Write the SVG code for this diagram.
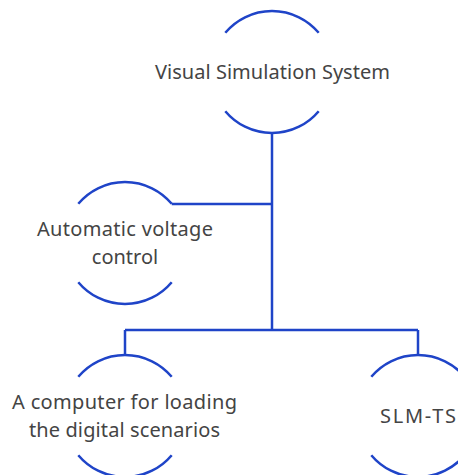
<svg xmlns="http://www.w3.org/2000/svg" width="458" height="475" viewBox="0 0 458 475">
<style>
.arc{fill:none;stroke:#1f44c8;stroke-width:2.5}
.con{fill:none;stroke:#1f44c8;stroke-width:2.5}
text{font-family:"Noto Sans","Liberation Sans",sans-serif;font-size:20px;fill:#444444;text-anchor:middle}
</style>
<rect width="458" height="475" fill="#ffffff"/>
<g id="connectors">
<path class="con" d="M272,132 V330"/>
<path class="con" d="M272,204 H171.7"/>
<path class="con" d="M125,330 H418"/>
<path class="con" d="M125,330 V355"/>
<path class="con" d="M418,330 V355"/>
</g>
<g id="node-visual-simulation-system">
<path class="arc" d="M225.3,32.8 A61,61 0 0 1 318.7,32.8"/>
<path class="arc" d="M225.3,111.2 A61,61 0 0 0 318.7,111.2"/>
<text x="272.5" y="79" textLength="235" lengthAdjust="spacing">Visual Simulation System</text>
</g>
<g id="node-automatic-voltage-control">
<path class="arc" d="M78.3,203.8 A61,61 0 0 1 171.7,203.8"/>
<path class="arc" d="M78.3,282.2 A61,61 0 0 0 171.7,282.2"/>
<text x="125" y="236" textLength="176" lengthAdjust="spacing">Automatic voltage</text>
<text x="125" y="264">control</text>
</g>
<g id="node-computer">
<path class="arc" d="M78.3,376.8 A61,61 0 0 1 171.7,376.8"/>
<path class="arc" d="M78.3,455.2 A61,61 0 0 0 171.7,455.2"/>
<text x="124.5" y="409" textLength="225" lengthAdjust="spacing">A computer for loading</text>
<text x="124.5" y="437" textLength="191" lengthAdjust="spacing">the digital scenarios</text>
</g>
<g id="node-slm-ts">
<path class="arc" d="M371.3,376.8 A61,61 0 0 1 464.7,376.8"/>
<path class="arc" d="M371.3,455.2 A61,61 0 0 0 464.7,455.2"/>
<text x="418" y="423" textLength="76" lengthAdjust="spacing">SLM-TS</text>
</g>
</svg>
